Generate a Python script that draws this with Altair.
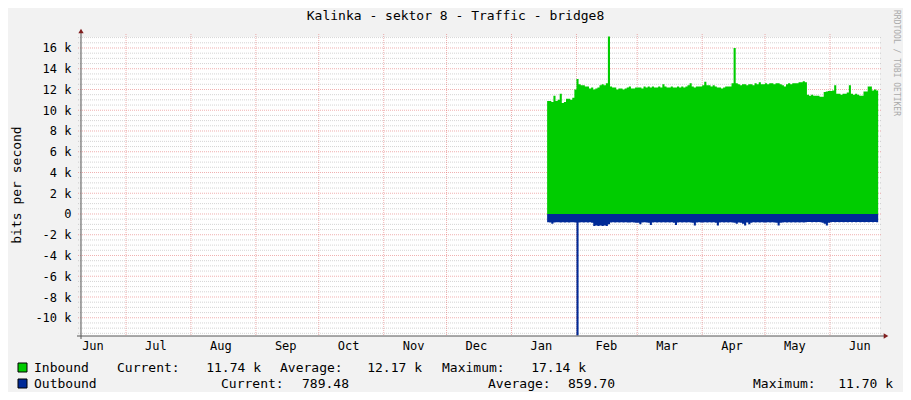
import altair as alt
import pandas as pd

TITLE = "Kalinka - sektor 8 - Traffic - bridge8"
Y_TITLE = "bits per second"
WATERMARK = "RRDTOOL / TOBI OETIKER"

# daily samples starting at data_start (values in kilobits per second)
data_start = "2012-01-18"
inbound_k = [
    # Jan 18-31
    10.9, 10.9, 10.8, 11.4, 10.9, 11.0, 11.6, 10.7, 10.8, 11.1, 11.1, 11.0, 11.2, 12.0,
    # Feb
    13.0, 12.5, 12.4, 12.4, 12.3, 12.3, 12.1, 12.2, 12.0, 12.1, 12.2, 12.4, 12.5, 12.4, 12.6,
    17.1, 12.3, 12.2, 12.2, 12.0, 12.1, 12.1, 12.0, 12.1, 12.2, 12.3, 12.1, 12.1, 12.2,
    # Mar
    12.2, 12.2, 12.1, 12.3, 12.2, 12.3, 12.2, 12.3, 12.2, 12.2, 12.3, 12.2, 12.5, 12.3, 12.2,
    12.2, 12.3, 12.2, 12.2, 12.3, 12.2, 12.3, 12.2, 12.3, 12.4, 12.6, 12.3, 12.2, 12.3, 12.3, 12.3,
    # Apr
    12.4, 12.75, 12.4, 12.4, 12.3, 12.4, 12.3, 12.2, 12.2, 12.1, 12.2, 12.3, 12.3, 12.3, 12.6,
    16.0, 12.6, 12.5, 12.4, 12.5, 12.5, 12.4, 12.5, 12.5, 12.4, 12.6, 12.5, 12.7, 12.5, 12.5,
    # May
    12.6, 12.5, 12.6, 12.6, 12.5, 12.6, 12.6, 12.5, 12.4, 12.3, 12.5, 12.6, 12.5, 12.6, 12.6,
    12.6, 12.7, 12.7, 12.8, 12.7, 11.5, 11.4, 11.5, 11.4, 11.4, 11.4, 11.3, 11.3, 11.75, 11.8, 11.85,
    # Jun 1-24
    11.85, 11.9, 12.4, 11.6, 11.6, 11.5, 11.6, 11.6, 11.7, 12.4, 11.6, 11.5, 11.6, 11.5, 11.4,
    11.4, 11.8, 11.8, 12.3, 12.3, 11.9, 12.0, 11.9, 11.74,
]
outbound_k = [
    # Jan 18-31
    0.80, 0.82, 0.95, 0.82, 0.80, 0.80, 0.82, 0.80, 0.81, 0.80, 0.82, 0.80, 0.80, 0.82,
    # Feb
    11.7, 0.82, 0.80, 0.82, 0.80, 0.82, 0.80, 0.85, 1.15, 1.10, 1.15, 1.10, 1.15, 1.10, 1.15,
    1.0, 0.82, 0.80, 0.82, 0.80, 0.82, 0.80, 0.82, 0.80, 0.82, 0.82, 0.80, 0.82, 0.85,
    # Mar
    0.85, 1.0, 0.82, 0.80, 0.82, 0.85, 1.05, 0.82, 0.80, 0.82, 0.80, 0.82, 0.80, 0.82, 0.80,
    0.82, 0.80, 0.85, 1.05, 0.82, 0.80, 0.82, 0.80, 0.82, 0.80, 0.82, 0.85, 1.1, 0.82, 0.80, 0.82,
    # Apr
    0.82, 0.80, 0.82, 0.80, 0.82, 0.80, 0.85, 1.1, 0.82, 0.80, 0.82, 0.80, 0.82, 0.80, 0.82,
    0.85, 0.95, 0.82, 0.85, 0.95, 1.1, 0.82, 1.0, 0.85, 0.80, 0.82, 0.80, 0.82, 0.80, 0.82,
    # May
    0.82, 0.80, 0.82, 0.80, 0.82, 0.85, 1.1, 0.85, 0.82, 0.80, 0.82, 0.80, 0.82, 0.80, 0.82,
    0.80, 0.82, 0.80, 0.82, 0.80, 0.78, 0.78, 0.80, 0.78, 0.80, 0.78, 0.80, 0.85, 0.95, 1.1, 0.85,
    # Jun 1-24
    0.80, 0.78, 0.80, 0.78, 0.80, 0.78, 0.80, 0.78, 0.80, 0.78, 0.80, 0.78, 0.80, 0.78, 0.80,
    0.78, 0.80, 0.78, 0.80, 0.78, 0.80, 0.78, 0.80, 0.79,
]

month_starts = ["2011-07-01", "2011-08-01", "2011-09-01", "2011-10-01", "2011-11-01",
                "2011-12-01", "2012-01-01", "2012-02-01", "2012-03-01", "2012-04-01",
                "2012-05-01", "2012-06-01"]
month_label_dates = [(2011, 6), (2011, 7), (2011, 8), (2011, 9), (2011, 10), (2011, 11),
                     (2011, 12), (2012, 1), (2012, 2), (2012, 3), (2012, 4), (2012, 5),
                     (2012, 6)]
y_major = [-10000, -8000, -6000, -4000, -2000, 0, 2000, 4000, 6000, 8000, 10000, 12000, 14000, 16000]
y_minor = [v for v in range(-11500, 17001, 500) if v % 2000 != 0]

in_stats = ["Inbound", "Current:", "11.74 k", "Average:", "12.17 k", "Maximum:", "17.14 k"]
out_stats = ["Outbound", "Current:", "789.48", "Average:", "859.70", "Maximum:", "11.70 k"]

GREEN = "#00CC00"
BLUE = "#002A97"
MONO = "DejaVu Sans Mono"
W, H = 799, 299

dates = pd.date_range(data_start + "T00:00:00", periods=len(inbound_k), freq="D")
df = pd.DataFrame({
    "t": dates,
    "inb": [v * 1000 for v in inbound_k],
    "outb": [-v * 1000 for v in outbound_k],
})

xscale = alt.Scale(domain=[alt.DateTime(year=2011, month=6, date=9, hours=12, minutes=30),
                           alt.DateTime(year=2012, month=6, date=24, hours=21)])
yscale = alt.Scale(domain=[-11759, 17060], nice=False, zero=False)

xaxis = alt.Axis(values=[alt.DateTime(year=y, month=m, date=15) for y, m in month_label_dates],
                 format="%b", title="", grid=False, ticks=False, domain=False,
                 labelFont=MONO, labelFontSize=12, labelColor="#000000",
                 labelPadding=4, labelAlign="center", labelFlush=False, labelOverlap=False)
yaxis = alt.Axis(values=y_major,
                 labelExpr="datum.value == 0 ? '0\u00a0\u00a0' : (datum.value / 1000) + ' k'",
                 title="", grid=False, ticks=False, domain=False,
                 labelFont=MONO, labelFontSize=12, labelColor="#000000", labelPadding=10)

grid_minor = alt.Chart(pd.DataFrame({"v": y_minor})).mark_rule(
    color="#8F8F8F", opacity=0.38, strokeDash=[1, 1], strokeWidth=1
).encode(y=alt.Y("v:Q", scale=yscale, axis=yaxis), x=alt.value(-3), x2=alt.value(801))

grid_major = alt.Chart(pd.DataFrame({"v": y_major})).mark_rule(
    color="#DE4F4F", opacity=0.45, strokeDash=[1, 1], strokeWidth=1
).encode(y=alt.Y("v:Q", scale=yscale, axis=yaxis), x=alt.value(-3), x2=alt.value(801))

grid_month = alt.Chart(pd.DataFrame({"m": pd.to_datetime([m + "T00:00:00" for m in month_starts])})).mark_rule(
    color="#DE4F4F", opacity=0.45, strokeDash=[1, 1], strokeWidth=1
).encode(x=alt.X("m:T", scale=xscale, axis=xaxis), y=alt.value(-3), y2=alt.value(H))

inbound = alt.Chart(df).mark_area(color=GREEN, interpolate="step-after", opacity=1).encode(
    x=alt.X("t:T", scale=xscale, axis=xaxis),
    y=alt.Y("inb:Q", scale=yscale, axis=yaxis),
    y2=alt.datum(0),
)
outbound = alt.Chart(df).mark_area(color=BLUE, interpolate="step-after", opacity=1).encode(
    x=alt.X("t:T", scale=xscale, axis=xaxis),
    y=alt.Y("outb:Q", scale=yscale, axis=yaxis),
    y2=alt.datum(0),
)

one = pd.DataFrame({"k": [0]})

def text(txt, x, y, size=13, align="left", angle=0, color="#000000"):
    return alt.Chart(pd.DataFrame({"s": [txt]})).mark_text(
        font=MONO, fontSize=size, align=align, baseline="middle", angle=angle, color=color
    ).encode(x=alt.value(x), y=alt.value(y), text="s:N")

axis_lines = [
    alt.Chart(one).mark_rule(color="#555555", strokeWidth=1).encode(
        x=alt.value(0), y=alt.value(-5), y2=alt.value(H + 3)),
    alt.Chart(one).mark_rule(color="#555555", strokeWidth=1).encode(
        x=alt.value(-4), x2=alt.value(803), y=alt.value(H)),
    alt.Chart(one).mark_point(shape="triangle-up", filled=True, size=28, color="#801F1F", opacity=1).encode(
        x=alt.value(0), y=alt.value(-6)),
    alt.Chart(one).mark_point(shape="triangle-right", filled=True, size=28, color="#801F1F", opacity=1).encode(
        x=alt.value(805), y=alt.value(H)),
]

legend_boxes = [
    alt.Chart(one).mark_rect(color=GREEN, stroke="#000000", strokeWidth=1).encode(
        x=alt.value(-63), x2=alt.value(-54), y=alt.value(326), y2=alt.value(335)),
    alt.Chart(one).mark_rect(color=BLUE, stroke="#000000", strokeWidth=1).encode(
        x=alt.value(-63), x2=alt.value(-54), y=alt.value(342), y2=alt.value(351)),
]

row1_y, row2_y = 331, 347
legend_texts = [
    text(in_stats[0], -47, row1_y), text(in_stats[1], 36, row1_y),
    text(in_stats[2], 180, row1_y, align="right"), text(in_stats[3], 199, row1_y),
    text(in_stats[4], 341, row1_y, align="right"), text(in_stats[5], 361, row1_y),
    text(in_stats[6], 505, row1_y, align="right"),
    text(out_stats[0], -47, row2_y), text(out_stats[1], 140, row2_y),
    text(out_stats[2], 268, row2_y, align="right"), text(out_stats[3], 407, row2_y),
    text(out_stats[4], 534, row2_y, align="right"), text(out_stats[5], 672, row2_y),
    text(out_stats[6], 812, row2_y, align="right"),
]

titles = [
    text(TITLE, 374.5, -21, size=13, align="center"),
    text(Y_TITLE, -64, 148, size=13, align="center", angle=270),
    text(WATERMARK, 815, 26, size=8, align="center", angle=90, color="#AAAAAA"),
]

chart = alt.layer(
    grid_minor, grid_major, grid_month, inbound, outbound,
    *axis_lines, *legend_boxes, *legend_texts, *titles
).properties(
    width=W, height=H,
    padding={"left": 73, "top": 29, "right": 23, "bottom": 56},
    autosize=alt.AutoSizeParams(type="none"),
    background="#F2F2F2",
).configure_view(fill="#FFFFFF", strokeWidth=0)

chart.save("out.html", embed_options={"renderer": "svg", "actions": False})
